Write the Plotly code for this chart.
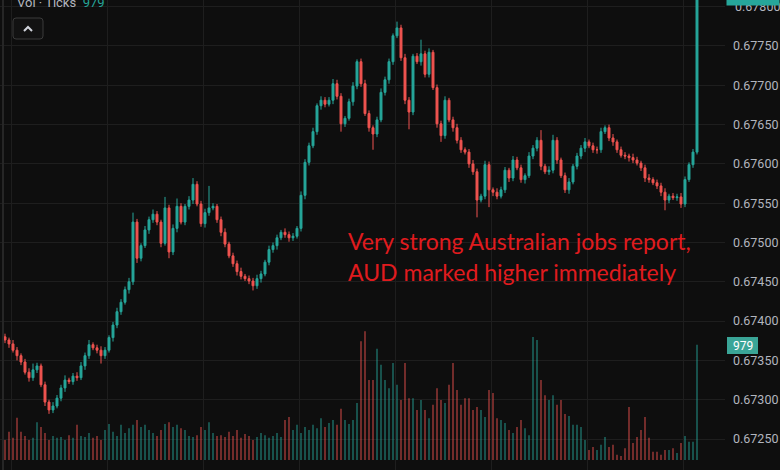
import plotly.graph_objects as go

# ---------------- data ----------------
first_open = 0.67380
close = [
    0.67376, 0.67371, 0.67363, 0.67356, 0.67348, 0.67335, 0.67328, 0.67338, 0.67343, 0.67319,
    0.67297, 0.67287, 0.67292, 0.67302, 0.67315, 0.67325, 0.67323, 0.67330, 0.67328, 0.67343,
    0.67356, 0.67370, 0.67366, 0.67363, 0.67356, 0.67363, 0.67379, 0.67395, 0.67412, 0.67424,
    0.67440, 0.67450, 0.67526, 0.67480, 0.67496, 0.67516, 0.67529, 0.67536, 0.67526, 0.67499,
    0.67544, 0.67488, 0.67518, 0.67546, 0.67526, 0.67546, 0.67554, 0.67574, 0.67549, 0.67524,
    0.67538, 0.67544, 0.67546, 0.67529, 0.67513, 0.67498, 0.67483, 0.67473, 0.67463, 0.67457,
    0.67454, 0.67451, 0.67445, 0.67454, 0.67460, 0.67475, 0.67491, 0.67496, 0.67506, 0.67513,
    0.67510, 0.67506, 0.67508, 0.67518, 0.67560, 0.67602, 0.67623, 0.67641, 0.67674, 0.67681,
    0.67676, 0.67681, 0.67702, 0.67686, 0.67651, 0.67658, 0.67679, 0.67699, 0.67730, 0.67702,
    0.67664, 0.67646, 0.67638, 0.67656, 0.67691, 0.67707, 0.67730, 0.67763, 0.67773, 0.67735,
    0.67681, 0.67666, 0.67737, 0.67730, 0.67740, 0.67714, 0.67742, 0.67697, 0.67651, 0.67636,
    0.67681, 0.67656, 0.67646, 0.67630, 0.67618, 0.67615, 0.67600, 0.67590, 0.67554, 0.67559,
    0.67599, 0.67567, 0.67564, 0.67559, 0.67567, 0.67592, 0.67582, 0.67605, 0.67595, 0.67580,
    0.67585, 0.67610, 0.67620, 0.67630, 0.67597, 0.67590, 0.67592, 0.67630, 0.67605, 0.67585,
    0.67567, 0.67577, 0.67597, 0.67610, 0.67620, 0.67628, 0.67623, 0.67618, 0.67618, 0.67641,
    0.67646, 0.67633, 0.67628, 0.67618, 0.67611, 0.67610, 0.67608, 0.67605, 0.67601, 0.67595,
    0.67582, 0.67580, 0.67576, 0.67572, 0.67564, 0.67554, 0.67559, 0.67557, 0.67558, 0.67549,
    0.67580, 0.67599, 0.67615, 0.67818,
]
# wick lengths beyond the body, in 0.00001 units
upper_wick = [
    4, 3, 5, 4, 3, 4, 5, 8, 4, 3,
    4, 3, 5, 4, 4, 6, 3, 4, 5, 5,
    4, 6, 3, 4, 5, 4, 3, 4, 5, 4,
    4, 5, 12, 4, 3, 5, 4, 6, 4, 3,
    14, 4, 5, 10, 4, 3, 5, 8, 4, 4,
    5, 28, 4, 3, 4, 5, 3, 4, 4, 5,
    3, 4, 4, 5, 4, 3, 5, 4, 4, 3,
    5, 4, 4, 3, 5, 4, 4, 5, 3, 5,
    4, 4, 6, 5, 4, 3, 4, 5, 3, 4,
    5, 4, 3, 4, 5, 4, 4, 3, 8, 4,
    5, 4, 3, 4, 18, 4, 5, 3, 4, 4,
    5, 3, 4, 5, 4, 3, 4, 5, 4, 3,
    5, 4, 3, 5, 4, 4, 3, 5, 4, 4,
    3, 5, 4, 4, 13, 3, 5, 7, 4, 3,
    4, 5, 3, 4, 4, 5, 3, 4, 4, 5,
    3, 4, 5, 3, 4, 4, 3, 5, 4, 3,
    4, 5, 3, 4, 4, 5, 3, 4, 4, 5,
    4, 3, 4, 5,
]
lower_wick = [
    4, 5, 3, 6, 4, 3, 5, 4, 4, 3,
    5, 5, 4, 3, 4, 5, 3, 4, 4, 3,
    5, 4, 3, 4, 10, 4, 3, 5, 4, 4,
    3, 5, 4, 6, 4, 3, 5, 4, 4, 5,
    3, 8, 4, 5, 3, 4, 4, 5, 3, 4,
    5, 4, 3, 4, 5, 4, 3, 4, 5, 4,
    3, 4, 6, 4, 5, 3, 4, 4, 5, 3,
    4, 5, 4, 3, 4, 5, 4, 3, 4, 5,
    4, 3, 5, 4, 10, 4, 3, 5, 4, 4,
    3, 5, 20, 4, 3, 4, 5, 4, 3, 4,
    5, 22, 4, 3, 5, 4, 4, 3, 5, 8,
    4, 3, 5, 4, 4, 3, 5, 4, 22, 3,
    4, 22, 5, 4, 3, 4, 5, 4, 3, 4,
    5, 3, 4, 4, 5, 3, 4, 4, 5, 3,
    4, 5, 3, 4, 4, 5, 3, 4, 5, 4,
    3, 4, 5, 4, 3, 4, 5, 4, 3, 4,
    5, 4, 3, 4, 5, 13, 4, 3, 4, 5,
    4, 3, 4, 3,
]
volume = [
    170, 240, 190, 360, 240, 205, 170, 190, 320, 280,
    230, 170, 205, 190, 195, 170, 210, 190, 300, 205,
    195, 230, 190, 205, 170, 255, 305, 240, 205, 300,
    230, 270, 300, 340, 280, 300, 255, 230, 205, 255,
    305, 320, 280, 300, 270, 255, 205, 195, 210, 280,
    255, 320, 230, 205, 210, 195, 240, 205, 255, 190,
    220, 205, 170, 195, 230, 210, 190, 205, 230, 195,
    340, 365, 255, 300, 230, 280, 255, 300, 270, 355,
    280, 315, 340, 300, 435, 340, 305, 340, 485, 1010,
    1095, 680, 680, 945, 810, 680, 610, 825, 640, 510,
    825, 525, 525, 425, 510, 425, 355, 470, 610, 510,
    485, 640, 825, 595, 470, 525, 525, 425, 450, 425,
    365, 595, 570, 355, 340, 315, 255, 230, 280, 340,
    270, 210, 1045, 1020, 680, 550, 510, 550, 470, 510,
    390, 375, 300, 300, 280, 170, 85, 110, 85, 130,
    195, 110, 130, 45, 35, 100, 450, 145, 195, 255,
    365, 190, 70, 70, 45, 85, 85, 100, 60, 145,
    205, 155, 155, 979,
]
price_ticks = [0.6725, 0.6730, 0.6735, 0.6740, 0.6745, 0.6750,
               0.6755, 0.6760, 0.6765, 0.6770, 0.6775]
top_tick = 0.6780
last_price_label = "0.67818"
volume_label = "979"
legend_text = "Vol · Ticks"
note_line1 = "Very strong Australian jobs report,"
note_line2 = "AUD marked higher immediately"

# ---------------- build ----------------
n = len(close)
idx = list(range(n))
opens = [first_open] + close[:-1]          # tick bars: open = previous close
high = [max(o, c) + u / 1e5 for o, c, u in zip(opens, close, upper_wick)]
low = [min(o, c) - l / 1e5 for o, c, l in zip(opens, close, lower_wick)]

W, H = 780, 470
MR = 55
PW = W - MR
Y_RANGE = [0.672106, 0.678085]


def px(x):
    return x / PW


def py(y):
    return 1 - y / H


BG = "#0e0e0e"
GRID = "#1e1e1e"
UP = "#26a69a"
DN = "#ef5350"
LABEL = "#b2b5be"
vol_colors = ["rgba(38,166,154,0.5)" if c >= o else "rgba(239,83,80,0.5)"
              for o, c in zip(opens, close)]

fig = go.Figure()
fig.add_trace(go.Candlestick(
    x=idx, open=opens, high=high, low=low, close=close,
    increasing=dict(line=dict(color=UP, width=1), fillcolor=UP),
    decreasing=dict(line=dict(color=DN, width=1), fillcolor=DN),
    whiskerwidth=0, hoverinfo="skip", yaxis="y"))
fig.add_trace(go.Bar(
    x=idx, y=volume, marker=dict(color=vol_colors, line=dict(width=0)),
    width=0.45, yaxis="y2", hoverinfo="skip"))

fig.update_layout(
    width=W, height=H,
    margin=dict(l=0, r=MR, t=0, b=0),
    paper_bgcolor=BG, plot_bgcolor=BG,
    showlegend=False, boxgap=0.3,
    xaxis=dict(range=[-1.25, 180], showticklabels=False, showgrid=True,
               gridcolor=GRID, gridwidth=1, tick0=1.5, dtick=24, zeroline=False,
               showline=False, ticks="", rangeslider=dict(visible=False)),
    yaxis=dict(side="right", range=Y_RANGE,
               tickvals=price_ticks + [top_tick],
               ticktext=[f"{v:.5f}" for v in price_ticks] + [""],
               tickfont=dict(color=LABEL, size=12.5, family="Roboto"),
               showgrid=True, gridcolor=GRID, gridwidth=1, zeroline=False,
               ticks="", ticklabelstandoff=7, showline=False),
    yaxis2=dict(overlaying="y", range=[-85, 3910], visible=False),
)

# rounded button outline
x0, x1, y0, y1, r = 13, 43, 18, 39, 3
path = (f"M {px(x0 + r)} {py(y0)} L {px(x1 - r)} {py(y0)} Q {px(x1)} {py(y0)} {px(x1)} {py(y0 + r)} "
        f"L {px(x1)} {py(y1 - r)} Q {px(x1)} {py(y1)} {px(x1 - r)} {py(y1)} "
        f"L {px(x0 + r)} {py(y1)} Q {px(x0)} {py(y1)} {px(x0)} {py(y1 - r)} "
        f"L {px(x0)} {py(y0 + r)} Q {px(x0)} {py(y0)} {px(x0 + r)} {py(y0)} Z")
shapes = [
    dict(type="line", xref="paper", yref="paper", x0=px(3), x1=px(3), y0=0, y1=1,
         line=dict(color="#262626", width=2)),
    dict(type="path", xref="paper", yref="paper", path=path,
         line=dict(color="#3a3a3a", width=1), fillcolor="#121212"),
    dict(type="path", xref="paper", yref="paper",
         path=f"M {px(24)} {py(31)} L {px(28)} {py(27)} L {px(32)} {py(31)}",
         line=dict(color="#d1d4dc", width=2)),
    dict(type="rect", xref="paper", yref="paper", x0=px(727), x1=px(758),
         y0=py(354), y1=py(337), line=dict(width=0), fillcolor="#3aa597"),
]
annotations = [
    dict(xref="paper", yref="y", x=px(733), y=top_tick, xanchor="left", yanchor="middle",
         showarrow=False, text=f"{top_tick:.5f}",
         font=dict(family="Roboto", size=12.5, color=LABEL)),
    # last-price box, drawn after (above) the top tick label
    dict(xref="paper", yref="paper", x=px(753), y=py(-5), xanchor="center", yanchor="middle",
         showarrow=False, text=last_price_label, width=52, height=20, bgcolor=UP,
         borderpad=0, font=dict(family="Roboto", size=12, color="#ffffff")),
    dict(xref="paper", yref="paper", x=px(15), y=py(2), xanchor="left", yanchor="middle",
         showarrow=False, text=f'{legend_text}  <span style="color:{UP}">{volume_label}</span>',
         font=dict(family="Roboto", size=13, color=LABEL)),
    dict(xref="paper", yref="paper", x=px(742.5), y=py(345.5), xanchor="center", yanchor="middle",
         showarrow=False, text=volume_label,
         font=dict(family="Roboto", size=12, color="#ffffff")),
    dict(xref="paper", yref="paper", x=px(346), y=py(241), xanchor="left", yanchor="middle",
         showarrow=False, text=note_line1,
         font=dict(family="Lato", size=23, color="#e01b1e")),
    dict(xref="paper", yref="paper", x=px(346), y=py(272), xanchor="left", yanchor="middle",
         showarrow=False, text=note_line2,
         font=dict(family="Lato", size=23, color="#e01b1e")),
]
fig.update_layout(shapes=shapes, annotations=annotations)

fig.write_html("out.html", config={"displayModeBar": False},
               post_script="document.body.style.margin='0';document.body.style.overflow='hidden';")
